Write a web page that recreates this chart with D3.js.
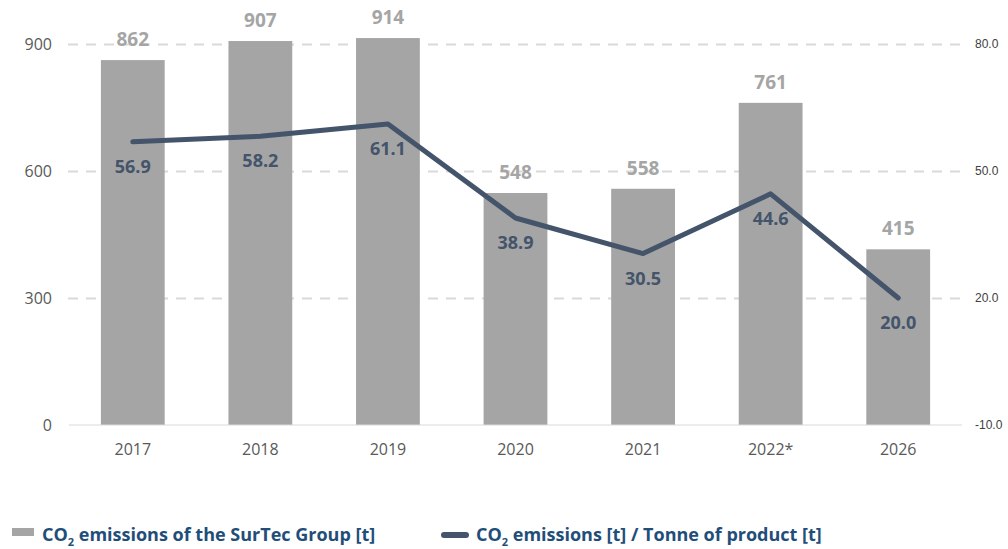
<!DOCTYPE html>
<html>
<head>
<meta charset="utf-8">
<script src="https://cdn.jsdelivr.net/npm/d3@7"></script>
<style>
  body { margin: 0; background: #ffffff; }
</style>
</head>
<body>
<script>
// chart data
var years = ["2017", "2018", "2019", "2020", "2021", "2022*", "2026"]
var emissions = [862, 907, 914, 548, 558, 761, 415]
var perTonne = [56.9, 58.2, 61.1, 38.9, 30.5, 44.6, 20.0]
var leftTicks = [0, 300, 600, 900]
var rightTicks = [-10, 20, 50, 80]

var w = 1008
var h = 549
var barColor = "#a5a5a5"
var lineColor = "#44546a"
var legendColor = "#1f4e79"

var svg = d3.select("body")
    .append("svg")
    .attr("width", w)
    .attr("height", h)

// scales
var xScale = d3.scaleBand()
    .domain(years)
    .range([69, 962])
    .paddingInner(0.5)
    .paddingOuter(0.25)

var yLeft = d3.scaleLinear()
    .domain([0, 900])
    .range([425, 44])

var yRight = d3.scaleLinear()
    .domain([-10, 80])
    .range([425, 44])

// dashed gridlines
var grid = d3.axisLeft(yLeft)
    .tickValues(leftTicks.filter(function(d) { return d > 0 }))
    .tickSize(-(962 - 68))
    .tickFormat("")

svg.append("g")
    .attr("transform", "translate(68,0)")
    .call(grid)
    .call(function(g) { g.select(".domain").remove() })
    .selectAll("line")
    .attr("stroke", "#d9d9d9")
    .attr("stroke-width", 2)
    .attr("stroke-dasharray", "10,8")

// left axis labels
var leftAxis = d3.axisLeft(yLeft)
    .tickValues(leftTicks)
    .tickSize(0)
    .tickPadding(0)

svg.append("g")
    .attr("transform", "translate(52,0)")
    .call(leftAxis)
    .call(function(g) { g.select(".domain").remove() })
    .selectAll("text")
    .attr("font-family", "'Open Sans', sans-serif")
    .attr("font-size", 16)
    .attr("fill", "#595959")

// right axis labels (plain hyphen for the minus sign, as in the original)
var rightAxis = d3.axisRight(yRight)
    .tickValues(rightTicks)
    .tickSize(0)
    .tickPadding(0)
    .tickFormat(function(d) { return d.toFixed(1) })

svg.append("g")
    .attr("transform", "translate(975,0)")
    .call(rightAxis)
    .call(function(g) { g.select(".domain").remove() })
    .selectAll("text")
    .attr("font-family", "'Liberation Sans', Arial, sans-serif")
    .attr("font-size", 12)
    .attr("fill", "#404040")

// bars
svg.selectAll("rect.bar")
    .data(emissions)
    .enter()
    .append("rect")
    .attr("class", "bar")
    .attr("x", function(d, i) { return xScale(years[i]) })
    .attr("y", function(d) { return yLeft(d) })
    .attr("width", xScale.bandwidth())
    .attr("height", function(d) { return yLeft(0) - yLeft(d) })
    .attr("fill", barColor)

// baseline
svg.append("line")
    .attr("x1", 69)
    .attr("x2", 962)
    .attr("y1", yLeft(0))
    .attr("y2", yLeft(0))
    .attr("stroke", "#d9d9d9")
    .attr("stroke-width", 1)

// x axis labels
var xAxis = d3.axisBottom(xScale)
    .tickSize(0)
    .tickPadding(0)

svg.append("g")
    .attr("transform", "translate(0,444)")
    .call(xAxis)
    .call(function(g) { g.select(".domain").remove() })
    .selectAll("text")
    .attr("font-family", "'Open Sans', sans-serif")
    .attr("font-size", 16)
    .attr("fill", "#595959")

// bar value labels
svg.selectAll("text.barlabel")
    .data(emissions)
    .enter()
    .append("text")
    .attr("class", "barlabel")
    .attr("text-anchor", "middle")
    .attr("x", function(d, i) { return xScale(years[i]) + xScale.bandwidth() / 2 })
    .attr("y", function(d) { return yLeft(d) - 14 })
    .attr("font-family", "'Open Sans', sans-serif")
    .attr("font-weight", "bold")
    .attr("font-size", 19)
    .attr("fill", barColor)
    .text(function(d) { return d })

// line series
var line = d3.line()
    .x(function(d, i) { return xScale(years[i]) + xScale.bandwidth() / 2 })
    .y(function(d) { return yRight(d) })

svg.append("path")
    .datum(perTonne)
    .attr("d", line)
    .attr("fill", "none")
    .attr("stroke", lineColor)
    .attr("stroke-width", 5)
    .attr("stroke-linecap", "round")
    .attr("stroke-linejoin", "round")

// line value labels
svg.selectAll("text.linelabel")
    .data(perTonne)
    .enter()
    .append("text")
    .attr("class", "linelabel")
    .attr("text-anchor", "middle")
    .attr("x", function(d, i) { return xScale(years[i]) + xScale.bandwidth() / 2 })
    .attr("y", function(d) { return yRight(d) + 31 })
    .attr("font-family", "'Open Sans', sans-serif")
    .attr("font-weight", "bold")
    .attr("font-size", 18)
    .attr("fill", lineColor)
    .text(function(d) { return d.toFixed(1) })

// legend
var legend = svg.append("g")
    .attr("font-family", "'Open Sans', sans-serif")
    .attr("font-weight", "bold")
    .attr("font-size", 18)
    .attr("fill", legendColor)

legend.append("rect")
    .attr("x", 12)
    .attr("y", 528)
    .attr("width", 22)
    .attr("height", 8)
    .attr("fill", barColor)

var t1 = legend.append("text")
    .attr("x", 42)
    .attr("y", 541)
t1.append("tspan").text("CO")
t1.append("tspan").attr("font-size", 11).attr("dy", 5).text("2")
t1.append("tspan").attr("dy", -5).text(" emissions of the SurTec Group [t]")

legend.append("line")
    .attr("x1", 444)
    .attr("x2", 466)
    .attr("y1", 535)
    .attr("y2", 535)
    .attr("stroke", lineColor)
    .attr("stroke-width", 6)
    .attr("stroke-linecap", "round")

var t2 = legend.append("text")
    .attr("x", 476)
    .attr("y", 541)
t2.append("tspan").text("CO")
t2.append("tspan").attr("font-size", 11).attr("dy", 5).text("2")
t2.append("tspan").attr("dy", -5).text(" emissions [t] / Tonne of product [t]")
</script>
</body>
</html>
